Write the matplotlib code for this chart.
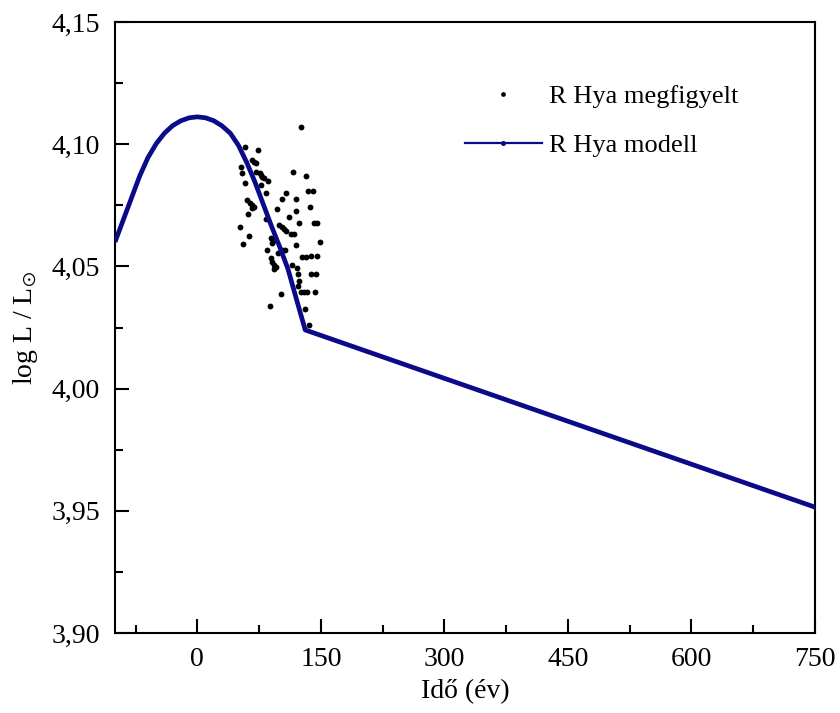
import matplotlib
matplotlib.use("Agg")
import matplotlib.pyplot as plt
from matplotlib.lines import Line2D
from matplotlib.ticker import FuncFormatter, MultipleLocator, FixedLocator

plt.rcParams["font.family"] = ["Liberation Serif", "DejaVu Serif"]
plt.rcParams["mathtext.fontset"] = "stix"

# Observed luminosity of R Hya (time in years, log L/Lsun)
obs_t = [126.3, 58.1, 73.4, 65.8, 69.4, 71.8, 53.2, 54.8, 71.8, 75.5,
         77.9, 79.1, 80.4, 85.2, 115.7, 131.5, 58.1, 77.9, 133.9, 140.0,
         107.1, 82.8, 120.2, 60.9, 64.5, 65.8, 68.2, 65.8, 102.3, 136.4,
         96.2, 119.3, 62.1, 110.8, 82.8, 141.2, 144.9, 123.0, 52.0, 98.6,
         102.3, 104.7, 107.1, 113.2, 116.9, 63.3, 88.9, 91.3, 90.1, 148.5,
         56.0, 119.3, 84.0, 97.4, 102.3, 105.9, 126.6, 131.5, 137.6, 144.9,
         88.9, 90.1, 92.5, 95.0, 92.5, 114.5, 120.5, 121.8, 137.6, 143.7,
         123.0, 121.8, 101.1, 125.4, 129.1, 132.7, 142.5, 87.7, 130.3, 135.2]
obs_logL = [4.1069, 4.0988, 4.0976, 4.0936, 4.0927, 4.0923, 4.0908, 4.0884, 4.0887, 4.0882,
            4.0874, 4.0866, 4.0862, 4.0850, 4.0887, 4.0870, 4.0842, 4.0833, 4.0809, 4.0809,
            4.0801, 4.0801, 4.0776, 4.0772, 4.0760, 4.0752, 4.0743, 4.0739, 4.0776, 4.0743,
            4.0735, 4.0727, 4.0715, 4.0702, 4.0694, 4.0678, 4.0678, 4.0678, 4.0662, 4.0670,
            4.0662, 4.0653, 4.0645, 4.0633, 4.0633, 4.0625, 4.0617, 4.0604, 4.0596, 4.0600,
            4.0592, 4.0588, 4.0567, 4.0555, 4.0567, 4.0567, 4.0539, 4.0539, 4.0543, 4.0543,
            4.0535, 4.0518, 4.0506, 4.0498, 4.0490, 4.0506, 4.0494, 4.0469, 4.0469, 4.0469,
            4.0441, 4.0420, 4.0388, 4.0396, 4.0396, 4.0396, 4.0396, 4.0338, 4.0326, 4.0261]

# Model luminosity track
model_t = [-100, -90, -80, -70, -60, -50, -40, -30, -20, -10, 0, 10, 20, 30, 40,
           50, 60, 70, 80, 90, 100, 110, 120, 131, 750]
model_logL = [4.0600, 4.0690, 4.0780, 4.0870, 4.0945, 4.1002, 4.1045, 4.1076, 4.1096, 4.1108,
              4.1112, 4.1108, 4.1096, 4.1075, 4.1045, 4.0995, 4.0925, 4.0845, 4.0755, 4.0665,
              4.0580, 4.0490, 4.0370, 4.0240, 3.9515]

x_ticks = [0, 150, 300, 450, 600, 750]
y_ticks = [3.90, 3.95, 4.00, 4.05, 4.10, 4.15]

line_color = "#0b0b8a"

fig = plt.figure(figsize=(8.40, 7.13), dpi=100)
ax = fig.add_axes([0.1369, 0.1122, 0.8333, 0.8569])

ax.plot(model_t, model_logL, color=line_color, lw=3.4, solid_capstyle="butt",
        solid_joinstyle="round", zorder=3)
ax.plot(obs_t, obs_logL, ls="none", marker="o", ms=4.2, color="black",
        markeredgewidth=0, zorder=2)

ax.set_xlim(-100, 750)
ax.set_ylim(3.90, 4.15)
ax.xaxis.set_major_locator(FixedLocator(x_ticks))
ax.xaxis.set_minor_locator(FixedLocator([-75, 75, 225, 375, 525, 675]))
ax.yaxis.set_major_locator(FixedLocator(y_ticks))
ax.yaxis.set_minor_locator(MultipleLocator(0.025))
ax.yaxis.set_major_formatter(FuncFormatter(lambda v, p: f"{v:.2f}".replace(".", ",")))
ax.xaxis.set_major_formatter(FuncFormatter(lambda v, p: f"{v:.0f}"))

ax.tick_params(which="both", direction="in", width=1.5, labelsize=20,
               top=False, right=False)
ax.tick_params(which="major", length=10)
ax.tick_params(which="minor", length=5.5)
ax.tick_params(axis="y", pad=11)
ax.tick_params(axis="x", pad=10)
for s in ax.spines.values():
    s.set_linewidth(1.5)

ax.set_xlabel("Idő (év)", fontsize=20, labelpad=5)
ax.set_ylabel(r"log L / L$_{\odot}$", fontsize=20, labelpad=8)

handles = [
    Line2D([], [], ls="none", marker="o", ms=3.4, color="black", markeredgewidth=0),
    Line2D([], [], color=line_color, lw=1.6, marker="o", ms=2.6),
]
ax.legend(handles, ["R Hya megfigyelt", "R Hya modell"], loc="upper left",
          bbox_to_anchor=(0.5, 0.897), frameon=False, fontsize=19,
          handlelength=2.9, handletextpad=0.3, labelspacing=0.95,
          borderpad=0, borderaxespad=0, numpoints=1)

fig.savefig("out.png", dpi=100)
